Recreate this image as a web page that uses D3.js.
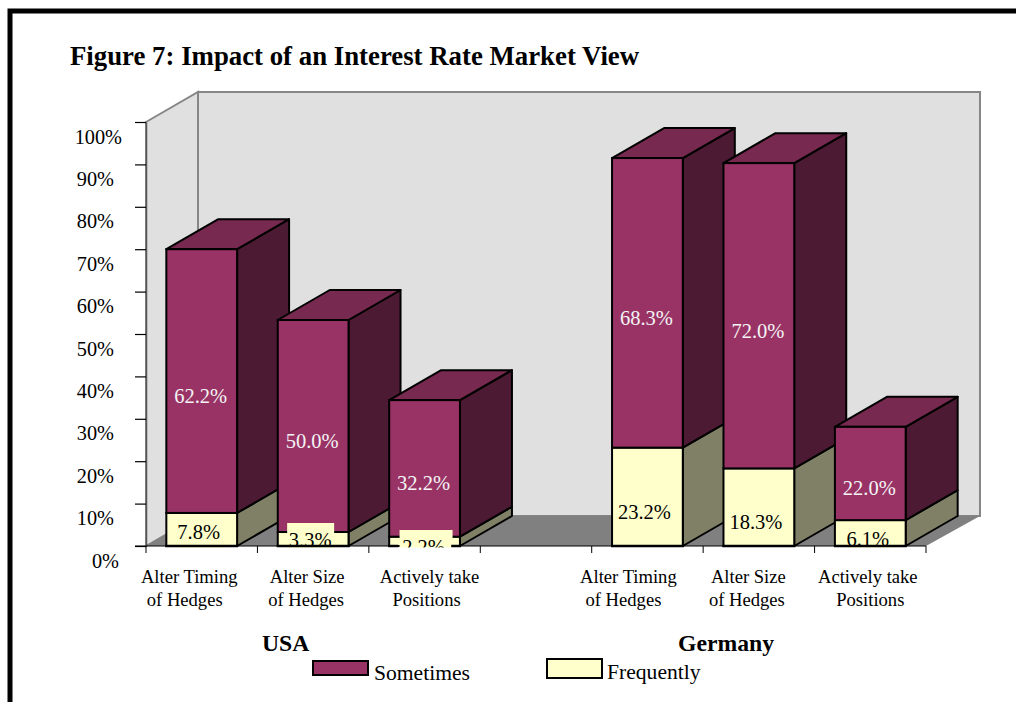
<!DOCTYPE html>
<html>
<head>
<meta charset="utf-8">
<title>Figure 7</title>
<script src="https://cdn.jsdelivr.net/npm/d3@7"></script>
<style>
  html, body { margin: 0; padding: 0; background: #fff; overflow: hidden; }
  svg { display: block; font-family: "Liberation Serif", serif; }
</style>
</head>
<body>
<div id="chart"></div>
<script>
// values, in percent
var categories = ["USA timing", "USA size", "USA active", "gap", "GER timing", "GER size", "GER active"];
var categoryLines = [
    ["Alter Timing", "of Hedges"], ["Alter Size", "of Hedges"], ["Actively take", "Positions"],
    [],
    ["Alter Timing", "of Hedges"], ["Alter Size", "of Hedges"], ["Actively take", "Positions"]
];
var frequently = [7.8, 3.3, 2.2, null, 23.2, 18.3, 6.1];
var sometimes = [62.2, 50.0, 32.2, null, 68.3, 72.0, 22.0];
var yTicks = [0, 10, 20, 30, 40, 50, 60, 70, 80, 90, 100];
var groups = ["USA", "Germany"];
var seriesNames = ["Sometimes", "Frequently"];

(function () {

    var width = 1016, height = 702;

    // plot floor front edge and height of the 100% line
    var plot = {left: 146, right: 926, top: 122, bottom: 546};
    // depth of the fake 3d box
    var depth = {x: 52, y: -30};

    var colors = {
        wall: "#e0e0e0", wallLine: "#868686", floor: "#808080",
        sometimes: "#993366", sometimesSide: "#4d1a33", sometimesTop: "#77294f",
        frequently: "#ffffcc", frequentlySide: "#808066"
    };

    var x = d3.scaleBand()
        .domain(categories)
        .range([plot.left, plot.right])
        .paddingInner(0.365)
        .paddingOuter(0.1825);

    var y = d3.scaleLinear()
        .domain([0, 100])
        .range([plot.bottom, plot.top]);

    var svg = d3.select("#chart").append("svg")
        .attr("width", width)
        .attr("height", height);

    // outer black frame, runs off the right and bottom of the page
    svg.append("rect")
        .attr("x", 10).attr("y", 11)
        .attr("width", width + 20).attr("height", height + 20)
        .attr("fill", "#fff")
        .attr("stroke", "#000")
        .attr("stroke-width", 5);

    svg.append("text")
        .attr("x", 70).attr("y", 65)
        .style("font-size", "26.8px")
        .style("font-weight", "bold")
        .text("Figure 7: Impact of an Interest Rate Market View");

    function poly(points) {
        return points.map(function (p) { return p[0] + "," + p[1]; }).join(" ");
    }

    // walls and floor
    svg.append("polygon")
        .attr("points", poly([
            [plot.left, plot.top], [plot.left + depth.x, plot.top + depth.y],
            [plot.left + depth.x, plot.bottom + depth.y], [plot.left, plot.bottom]
        ]))
        .attr("fill", colors.wall).attr("stroke", colors.wallLine).attr("stroke-width", 2);

    svg.append("rect")
        .attr("x", plot.left + depth.x).attr("y", plot.top + depth.y)
        .attr("width", plot.right - plot.left + 2)
        .attr("height", plot.bottom - plot.top)
        .attr("fill", colors.wall).attr("stroke", colors.wallLine).attr("stroke-width", 2);

    svg.append("polygon")
        .attr("points", poly([
            [plot.left, plot.bottom], [plot.left + depth.x, plot.bottom + depth.y],
            [plot.right + depth.x + 2, plot.bottom + depth.y], [plot.right, plot.bottom]
        ]))
        .attr("fill", colors.floor);

    // one stacked box per category, left to right so the later ones cover the earlier ones
    var bars = categories.map(function (c, i) {
        return {cat: c, freq: frequently[i], some: sometimes[i]};
    }).filter(function (d) { return d.freq !== null; });

    function box(g, x0, x1, y0, y1, front, side, top) {
        g.append("polygon")
            .attr("points", poly([[x1, y1], [x1 + depth.x, y1 + depth.y], [x1 + depth.x, y0 + depth.y], [x1, y0]]))
            .attr("fill", side).attr("stroke", "#000").attr("stroke-width", 2)
            .attr("stroke-linejoin", "round");
        if (top) {
            g.append("polygon")
                .attr("points", poly([[x0, y1], [x0 + depth.x, y1 + depth.y], [x1 + depth.x, y1 + depth.y], [x1, y1]]))
                .attr("fill", top).attr("stroke", "#000").attr("stroke-width", 2)
                .attr("stroke-linejoin", "round");
        }
        g.append("rect")
            .attr("x", x0).attr("y", y1)
            .attr("width", x1 - x0).attr("height", y0 - y1)
            .attr("fill", front).attr("stroke", "#000").attr("stroke-width", 2);
    }

    bars.forEach(function (d) {
        var g = svg.append("g").attr("class", "bar");
        var x0 = x(d.cat), x1 = x0 + x.bandwidth();
        box(g, x0, x1, y(0), y(d.freq), colors.frequently, colors.frequentlySide, null);
        box(g, x0, x1, y(d.freq), y(d.freq + d.some), colors.sometimes, colors.sometimesSide, colors.sometimesTop);
    });

    // y axis, the labels hang below their ticks and are not right aligned in the original
    var yAxis = d3.axisLeft(y)
        .tickValues(yTicks)
        .tickSize(11)
        .tickSizeOuter(0)
        .tickFormat(function (d) { return d + "%"; });

    var yg = svg.append("g")
        .attr("transform", "translate(" + plot.left + ",0)")
        .call(yAxis);
    yg.select(".domain").attr("stroke", "#555").attr("stroke-width", 1.5);
    yg.selectAll(".tick line").attr("stroke", "#000").attr("stroke-width", 1.2);
    yg.selectAll(".tick text")
        .attr("x", function (d) {
            if (d == 100) return -24;
            if (d == 0) return -27;
            return -32;
        })
        .attr("y", 21)
        .attr("dy", 0)
        .attr("fill", "#000")
        .style("font-family", '"Liberation Serif", serif')
        .style("font-size", "20.3px");

    // floor edge and its ticks, which sit on the band edges
    svg.append("line")
        .attr("x1", plot.left - 11).attr("x2", plot.right)
        .attr("y1", plot.bottom).attr("y2", plot.bottom)
        .attr("stroke", "#000").attr("stroke-width", 1.2);

    var edges = categories.map(function (c) { return x(c) - x.step() * x.paddingOuter(); })
        .concat([plot.right]);
    svg.selectAll(".edge")
        .data(edges)
        .enter().append("line")
        .attr("class", "edge")
        .attr("x1", function (d) { return d; })
        .attr("x2", function (d) { return d; })
        .attr("y1", plot.bottom)
        .attr("y2", plot.bottom + 7)
        .attr("stroke", "#000")
        .attr("stroke-width", 1);

    // the category labels are not centred on their bars in the original
    var labelShift = [[-12.5, -17], [-6, -7], [5, 2], [0, 0], [-19, -24], [-10.5, -12], [-2.5, 0]];

    categories.forEach(function (c, i) {
        var cx = x(c) + x.bandwidth() / 2;
        categoryLines[i].forEach(function (line, j) {
            svg.append("text")
                .attr("x", cx + labelShift[i][j])
                .attr("y", 583 + j * 23)
                .attr("text-anchor", "middle")
                .style("font-size", "18.6px")
                .text(line);
        });
    });

    // value labels sit half a box depth below the middle of the segment
    var labelDrop = -depth.y / 2;
    // small segments get pushed by hand: text centre y, text shift, box shift, box width
    var smallLabels = {
        "7.8": [532, -3, 0, 46],
        "3.3": [540, -3, -2.5, 47],
        "2.2": [547, -1, 1.5, 53],
        "6.1": [539, -2.5, 0, 46]
    };

    svg.append("clipPath").attr("id", "labelClip")
        .append("rect")
        .attr("x", 0).attr("y", 0)
        .attr("width", width).attr("height", plot.bottom + 1.5);

    var labelLayer = svg.append("g").attr("clip-path", "url(#labelClip)");

    function valueLabel(cx, cy, value, fill) {
        labelLayer.append("text")
            .attr("x", cx).attr("y", cy)
            .attr("dy", "0.34em")
            .attr("text-anchor", "middle")
            .attr("fill", fill)
            .style("font-size", "20.5px")
            .text(value.toFixed(1) + "%");
    }

    bars.forEach(function (d) {
        var cx = x(d.cat) + x.bandwidth() / 2;
        var small = smallLabels[d.freq.toFixed(1)];
        if (small) {
            labelLayer.append("rect")
                .attr("x", cx + small[2] - small[3] / 2)
                .attr("y", small[0] - 17)
                .attr("width", small[3])
                .attr("height", 34)
                .attr("fill", colors.frequently);
            valueLabel(cx + small[1], small[0], d.freq, "#000");
        } else {
            valueLabel(cx - 3, y(d.freq / 2) + labelDrop, d.freq, "#000");
        }
        valueLabel(cx - 1, y(d.freq + d.some / 2) + labelDrop, d.some, "#f4f4f4");
    });

    // bottom edges go back over the label boxes, except the 2.2% box which hides it
    svg.selectAll(".barBase")
        .data(bars)
        .enter().append("line")
        .attr("class", "barBase")
        .attr("x1", function (d) { return x(d.cat) - 1; })
        .attr("x2", function (d) { return x(d.cat) + x.bandwidth() + 1; })
        .attr("y1", plot.bottom)
        .attr("y2", plot.bottom)
        .attr("stroke", "#000")
        .attr("stroke-width", 2.5)
        .attr("stroke-dasharray", function (d) {
            return d.freq == 2.2 ? "10 53 20" : null;
        });

    // group names and legend
    svg.selectAll(".group")
        .data(groups)
        .enter().append("text")
        .attr("class", "group")
        .attr("x", function (d, i) { return [262, 678][i]; })
        .attr("y", 651)
        .style("font-size", "23.7px")
        .style("font-weight", "bold")
        .text(function (d) { return d; });

    var legend = [
        {name: seriesNames[0], fill: colors.sometimes, box: [313, 661, 55, 14], text: [374, 680]},
        {name: seriesNames[1], fill: colors.frequently, box: [547, 659, 55, 19], text: [607, 678.5]}
    ];
    legend.forEach(function (l) {
        svg.append("rect")
            .attr("x", l.box[0]).attr("y", l.box[1])
            .attr("width", l.box[2]).attr("height", l.box[3])
            .attr("fill", l.fill)
            .attr("stroke", "#000")
            .attr("stroke-width", 2);
        svg.append("text")
            .attr("x", l.text[0]).attr("y", l.text[1])
            .style("font-size", "21.6px")
            .text(l.name);
    });

})();
</script>
</body>
</html>
